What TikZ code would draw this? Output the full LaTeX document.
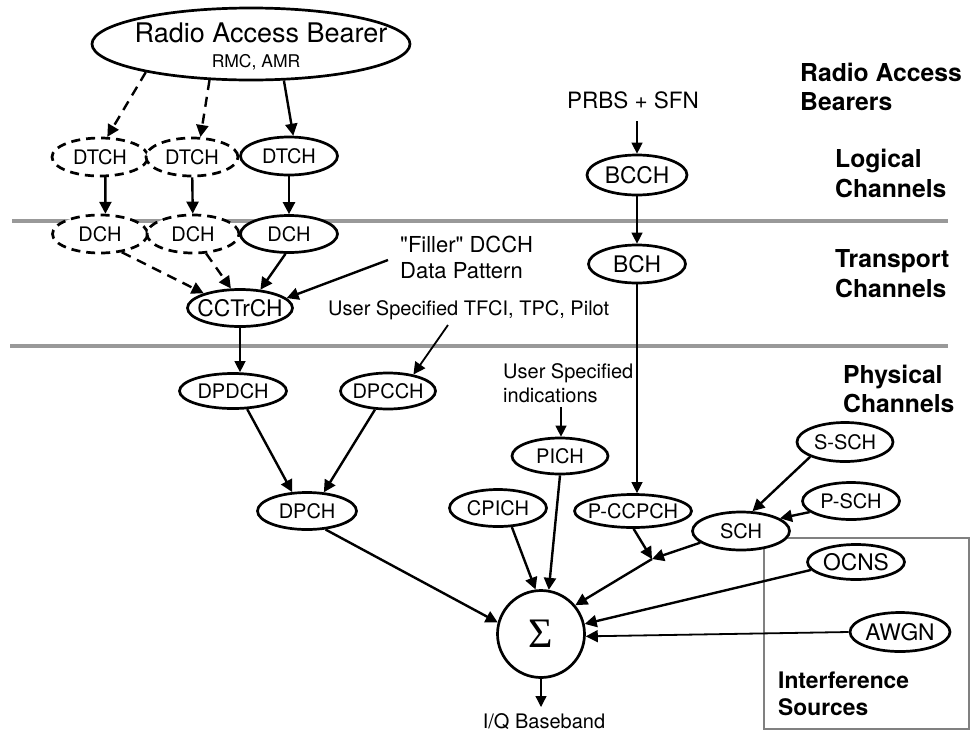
\documentclass[tikz,border=0pt]{standalone}
\usepackage{fontspec}
\setmainfont{TeX Gyre Heros}
\newfontfamily\sigmafont{Liberation Serif}
\usetikzlibrary{arrows.meta,shapes.geometric}

\begin{document}
\begin{tikzpicture}[x=1pt,y=-1pt,
  wh/.style 2 args={minimum width=#1pt, minimum height=#2pt},
  ch/.style={ellipse, draw, fill=white, line width=2.7pt, inner xsep=-20pt, inner ysep=-6pt,
             font=\fontsize{20}{24}\selectfont},
  bigtext/.style={font=\fontsize{22.8}{26}\selectfont},
  dch/.style={ch, dash pattern=on 9pt off 6pt},
  arr/.style={line width=2.4pt, -{Triangle[length=12pt,width=12pt]}},
  thinarr/.style={line width=1.3pt, -{Triangle[length=11pt,width=11pt]}},
  darr/.style={arr, dash pattern=on 10pt off 7pt},
  txt/.style={inner sep=0pt, font=\fontsize{20}{24}\selectfont},
  blab/.style={inner sep=0pt, anchor=base west, font=\fontsize{24.7}{29}\selectfont\bfseries},
  layer/.style={line width=4pt, black!40},
]
\useasboundingbox (0,0) rectangle (971,734);

% layer separators and the interference group
\draw[layer] (12,221) -- (948,221);
\draw[layer] (10,346) -- (948,346);
\draw[black!50, line width=1.3pt] (764,538) rectangle (969,729);

% radio access bearer
\node[ch, wh={318}{72}] (rab) at (251,44) {};
\node[txt, anchor=base, font=\fontsize{27}{30}\selectfont] (rabtitle) at (261,42) {Radio Access Bearer};
\node[txt, anchor=base, font=\fontsize{17.5}{20}\selectfont] (rabsub) at (256,67) {RMC, AMR};

% logical and transport channels (dedicated)
\node[dch, wh={96}{38}] (dt1) at (100,157) {DTCH};
\node[dch, wh={92}{38}] (dt2) at (192,157) {DTCH};
\node[ch,  wh={97}{38}] (dt3) at (289,156) {DTCH};
\node[dch, wh={95}{38}] (dc1) at (100,234) {DCH};
\node[dch, wh={92}{38}] (dc2) at (193,234) {DCH};
\node[ch,  wh={97}{37}] (dc3) at (289,234) {DCH};
\node[ch, bigtext, wh={105}{37}] (cct) at (240,308) {CCTrCH};

% physical channels
\node[ch, wh={107}{35}] (dpdch) at (233,391) {DPDCH};
\node[ch, wh={95}{36}]  (dpcch) at (388,391) {DPCCH};
\node[ch, wh={99}{37}]  (dpch)  at (307,511) {DPCH};

% broadcast path
\node[txt, anchor=base, font=\fontsize{22.5}{26}\selectfont] (prbs) at (633,108) {PRBS + SFN};
\node[ch, bigtext, wh={100}{40}] (bcch) at (637,175) {BCCH};
\node[ch, bigtext, wh={97}{38}]  (bch)  at (637,264) {BCH};

\node[ch, wh={96}{36}]  (pich)   at (560,456) {PICH};
\node[ch, wh={97}{37}]  (cpich)  at (498,508) {CPICH};
\node[ch, wh={117}{33}] (pccpch) at (633,511) {P-CCPCH};
\node[ch, wh={96}{39}]  (ssch)   at (845,442) {S-SCH};
\node[ch, wh={97}{37}]  (psch)   at (851,501) {P-SCH};
\node[ch, wh={97}{38}]  (sch)    at (741,531) {SCH};
\node[ch, bigtext, wh={97}{35}]  (ocns) at (856,562) {OCNS};
\node[ch, bigtext, wh={100}{39}] (awgn) at (900,632) {AWGN};

% summing point
\node[circle, draw, fill=white, line width=2.7pt, minimum size=87pt, inner sep=0pt,
      font=\sigmafont\fontsize{42}{42}\selectfont] (sum) at (541,634) {Σ};

% free text
\node[txt, anchor=base west, font=\fontsize{22}{26}\selectfont] (fill1) at (400,252) {\textquotedbl Filler\textquotedbl{} DCCH};
\node[txt, anchor=base west, font=\fontsize{22}{26}\selectfont] (fill2) at (400,278) {Data Pattern};
\node[txt, anchor=base west] (tfci) at (328,315) {User Specified TFCI, TPC, Pilot};
\node[txt, anchor=base west] (ind1) at (503,378) {User Specified};
\node[txt, anchor=base west] (ind2) at (503,402) {indications};
\node[txt, anchor=base] (iq) at (544,728) {I/Q Baseband};

% layer labels
\node[blab] (l1a) at (800,81)  {Radio Access};
\node[blab] (l1b) at (800,110) {Bearers};
\node[blab] (l2a) at (835,167) {Logical};
\node[blab] (l2b) at (835,197) {Channels};
\node[blab] (l3a) at (835,267) {Transport};
\node[blab] (l3b) at (835,297) {Channels};
\node[blab] (l4a) at (843,383) {Physical};
\node[blab] (l4b) at (843,412) {Channels};
\node[blab, font=\fontsize{22.8}{27}\selectfont\bfseries] (is1) at (778,688) {Interference};
\node[blab, font=\fontsize{22.8}{27}\selectfont\bfseries] (is2) at (778,715) {Sources};

% free connector ends
\coordinate (filltail) at (388,260);
\coordinate (tfcitail) at (448,325);
\coordinate (indtail)  at (561,407);
\coordinate (prbstail) at (637,121);
\coordinate (jn)       at (652,559);
\coordinate (iqtip)    at (541,707);

% connectors
\draw[darr] (rab.195) -- (dt1.70);
\draw[darr] (rab.221) -- (dt2.67);
\draw[arr]  (rab.312) -- (dt3.78);
\draw[arr]  (dt1.-75) -- (dc1.75);
\draw[arr]  (dt2) -- (dc2);
\draw[arr]  (dt3) -- (dc3);
\draw[darr] (dc1.-40) -- (cct.158);
\draw[darr] (dc2.-56) -- (cct.115);
\draw[arr]  (dc3.-100) -- (cct.42);
\draw[arr]  (filltail) -- (cct.12);
\draw[thinarr] (cct.south) -- (cct.south |- dpdch.north);
\draw[arr, line width=1.8pt] (tfcitail) -- (dpcch.33);
\draw[arr]  (dpdch.-52) -- (dpch.128);
\draw[arr]  (dpcch.-125) -- (dpch.48);
\draw[arr]  (dpch.-45) -- (sum.165);
\draw[arr]  (cpich.-54) -- (sum.97);
\draw[arr]  (pich.south) -- (sum.80);
\draw[thinarr] (indtail) -- (indtail |- pich.north);
\draw[thinarr] (prbstail) -- (bcch.north);
\draw[thinarr] (bcch.south) -- (bch.north);
\draw[thinarr] (bch.south) -- (bch.south |- pccpch.north);
\draw[arr]  (pccpch.-88) -- (jn);
\draw[arr]  (sch.196) -- (jn);
\draw[arr]  (jn) -- (sum.40);
\draw[arr]  (ssch.203) -- (sch.60);
\draw[arr]  (psch.195) -- (sch.18);
\draw[arr]  (ocns.190) -- (sum.13);
\draw[arr, line width=1.8pt] (awgn.west) -- (sum.-3);
\draw[thinarr] (sum.south) -- (iqtip);
\end{tikzpicture}
\end{document}
